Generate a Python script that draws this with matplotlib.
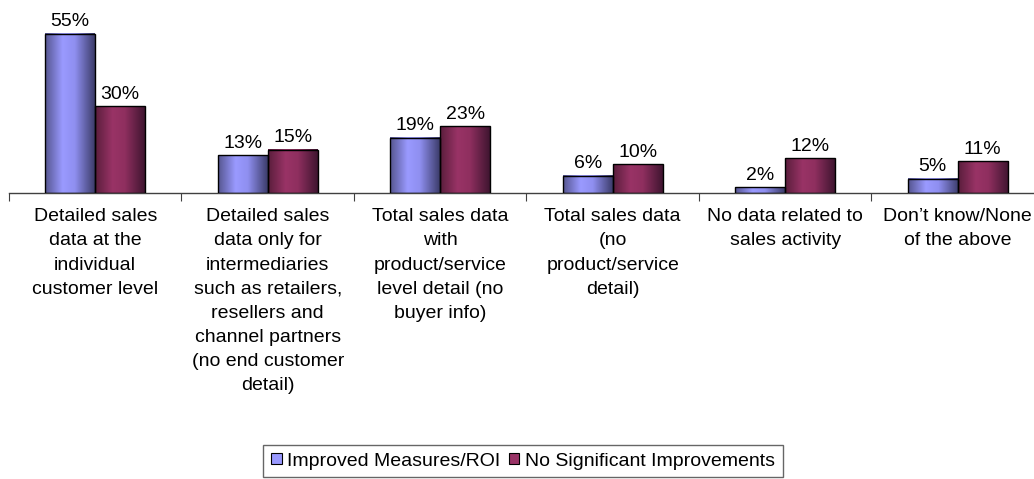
import numpy as np
import matplotlib
matplotlib.use("Agg")
import matplotlib.pyplot as plt
from matplotlib.colors import LinearSegmentedColormap
from matplotlib.patches import Patch

categories = [
    "Detailed sales\ndata at the\nindividual\ncustomer level",
    "Detailed sales\ndata only for\nintermediaries\nsuch as retailers,\nresellers and\nchannel partners\n(no end customer\ndetail)",
    "Total sales data\nwith\nproduct/service\nlevel detail (no\nbuyer info)",
    "Total sales data\n(no\nproduct/service\ndetail)",
    "No data related to\nsales activity",
    "Don\u2019t know/None\nof the above",
]
series_names = ["Improved Measures/ROI", "No Significant Improvements"]
improved = [55, 13, 19, 6, 2, 5]
no_improve = [30, 15, 23, 10, 12, 11]

plt.rcParams['font.family'] = ['Liberation Sans', 'DejaVu Sans']
FS = 14

W, H = 1034, 479
fig = plt.figure(figsize=(W / 100, H / 100), dpi=100)
ax_left = 9 / W
ax_w = 6 * 172.5 / W
ax_bottom = (H - 193) / H
ax_h = 174 / H
ax = fig.add_axes([ax_left, ax_bottom, ax_w, ax_h])

cmap_blue = LinearSegmentedColormap.from_list(
    "b", [(0, "#55558f"), (0.35, "#9a9aff"), (0.6, "#8f8ff0"), (1, "#3c3c6a")])
cmap_red = LinearSegmentedColormap.from_list(
    "r", [(0, "#5a1e3c"), (0.35, "#993366"), (0.6, "#8f2f5f"), (1, "#3f1530")])
grad = np.linspace(0, 1, 128).reshape(1, -1)

x = np.arange(len(categories)) + 0.5
bw = 50 / 172.5

for vals, cmap, off in [(improved, cmap_blue, -bw / 2), (no_improve, cmap_red, bw / 2)]:
    bars = ax.bar(x + off, vals, width=bw, facecolor="none", edgecolor="black",
                  linewidth=1.0, zorder=3)
    for b, v in zip(bars, vals):
        x0 = b.get_x()
        ax.imshow(grad, cmap=cmap, extent=(x0, x0 + bw, 0, v), aspect="auto",
                  zorder=2, interpolation="bilinear")
        ax.text(x0 + bw / 2, v + 1.2, f"{v}%", ha="center", va="bottom",
                fontsize=FS, color="black")

ax.set_xlim(0, 6)
ax.set_ylim(0, 60)
for s in ["top", "right", "left"]:
    ax.spines[s].set_visible(False)
ax.spines["bottom"].set_color("#404040")
ax.spines["bottom"].set_linewidth(1.0)
ax.set_yticks([])
ax.set_xticks(np.arange(0, 7))
ax.set_xticklabels([])
ax.tick_params(axis="x", which="major", length=6, direction="out", color="#404040")
ax.set_xticks(x, minor=True)
ax.set_xticklabels(categories, minor=True, fontsize=FS, linespacing=1.55)
ax.tick_params(axis="x", which="minor", length=0, pad=11)

handles = [Patch(facecolor="#9999ff", edgecolor="black", linewidth=0.8),
           Patch(facecolor="#993366", edgecolor="black", linewidth=0.8)]
leg = fig.legend(handles, series_names, loc="center", ncol=2,
                 bbox_to_anchor=(523 / W, (H - 461) / H), fontsize=FS,
                 frameon=True, fancybox=False, edgecolor="#404040",
                 handlelength=0.55, handleheight=0.55, handletextpad=0.3,
                 columnspacing=0.4, borderpad=0.4, borderaxespad=0)
leg.get_frame().set_linewidth(1.0)

fig.savefig("out.png", dpi=100)
